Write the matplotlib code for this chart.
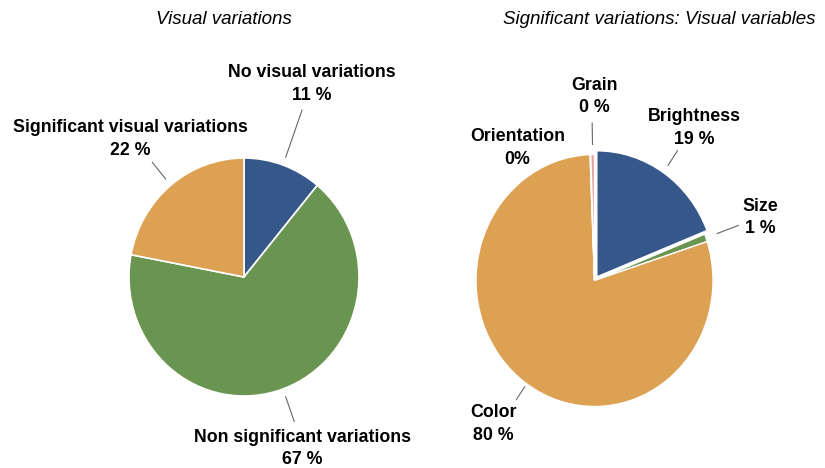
import numpy as np
import matplotlib
matplotlib.use("Agg")
import matplotlib.pyplot as plt

plt.rcParams["font.family"] = ["Liberation Sans", "DejaVu Sans"]

W, H = 825, 468

# left chart: visual variations
left_labels = ["No visual variations", "Non significant variations", "Significant visual variations"]
left_pct_text = ["11 %", "67 %", "22 %"]
left_values = [11, 67, 22]
left_colors = ["#36578a", "#6a9550", "#dca152"]

# right chart: visual variables among significant variations
right_labels = ["Brightness", "Size", "Color", "Orientation", "Grain"]
right_pct_text = ["19 %", "1 %", "80 %", "0%", "0 %"]
right_values = [19, 1, 79.4, 0.1, 0.5]
right_colors = ["#36578a", "#6a9550", "#dca152", "#dca152", "#e8a0a0"]
right_explode = [0.035, 0, 0, 0, 0]

SPAN = 3.5


def make_ax(fig, cx, cy, rx, ry):
    # axes centred on (cx, cy) in pixels (from top); 1 data unit = rx px across, ry px up
    hx, hy = SPAN * rx, SPAN * ry
    return fig.add_axes([(cx - hx) / W, (H - cy - hy) / H, 2 * hx / W, 2 * hy / H])


def fix_limits(ax):
    # pie() autoscales and forces equal aspect, so reset afterwards
    ax.set_xlim(-SPAN, SPAN)
    ax.set_ylim(-SPAN, SPAN)
    ax.set_aspect("auto")
    ax.axis("off")


def mid_angles(values, start=90):
    vals = np.array(values, dtype=float)
    frac = vals / vals.sum() * 360
    ends = start - np.cumsum(frac)
    return ends + frac / 2


def leader(ax, ang, r0, r1, off=0.0):
    a = np.deg2rad(ang)
    ox, oy = off * np.cos(a), off * np.sin(a)
    ax.plot([ox + r0 * np.cos(a), ox + r1 * np.cos(a)],
            [oy + r0 * np.sin(a), oy + r1 * np.sin(a)],
            color="#666666", lw=0.8, clip_on=False)


def label(ax, x, y, name, pct):
    ax.text(x, y, name + "\n" + pct, ha="center", va="center", fontsize=12.8,
            fontweight="bold", linespacing=1.44, clip_on=False)


fig = plt.figure(figsize=(W / 100, H / 100), dpi=100)

# left pie
ax1 = make_ax(fig, 244, 277, 115, 119)
ax1.pie(left_values, colors=left_colors, startangle=90, counterclock=False,
        radius=1, wedgeprops=dict(edgecolor="white", linewidth=1.2))
fix_limits(ax1)
ang1 = mid_angles(left_values)
left_text_pos = [(0.59, 1.62), (0.51, -1.44), (-0.99, 1.16)]
left_leader_r = [(1.07, 1.49), (1.07, 1.29), (1.07, 1.25)]
for i in range(len(left_values)):
    leader(ax1, ang1[i], *left_leader_r[i])
    label(ax1, *left_text_pos[i], left_labels[i], left_pct_text[i])

# right pie
ax2 = make_ax(fig, 594.5, 280.5, 118.5, 126)
ax2.pie(right_values, colors=right_colors, startangle=90, counterclock=False,
        radius=1, explode=right_explode,
        wedgeprops=dict(edgecolor="white", linewidth=1.0))
fix_limits(ax2)
ang2 = mid_angles(right_values)
right_text_pos = [(0.84, 1.21), (1.40, 0.50), (-0.85, -1.14), (-0.65, 1.05), (0.0, 1.46)]
right_leader_r = [(1.07, 1.21), (1.10, 1.29), (1.03, 1.15), None, (1.08, 1.25)]
for i in range(len(right_values)):
    if right_leader_r[i] is not None:
        leader(ax2, ang2[i], *right_leader_r[i], off=right_explode[i])
    label(ax2, *right_text_pos[i], right_labels[i], right_pct_text[i])

fig.text(223.5 / W, 1 - 20 / H, "Visual variations", ha="center", va="center",
         fontsize=13.5, fontstyle="italic")
fig.text(659 / W, 1 - 20 / H, "Significant variations: Visual variables", ha="center",
         va="center", fontsize=13.5, fontstyle="italic")

fig.savefig("out.png", dpi=100)
